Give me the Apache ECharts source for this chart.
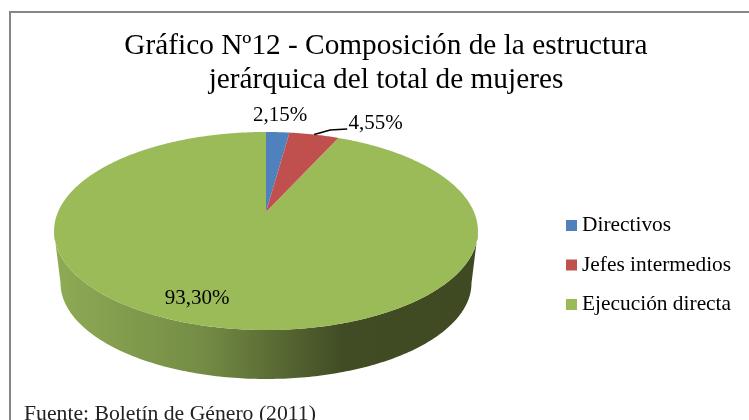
<!DOCTYPE html>
<html>
<head>
<meta charset="utf-8">
<style>html,body{margin:0;padding:0;background:#fff}#c{width:749px;height:420px}</style>
<script src="https://cdn.jsdelivr.net/npm/echarts@6/dist/echarts.min.js"></script>
</head>
<body>
<div id="c"></div>
<script>
const categories = ['Directivos', 'Jefes intermedios', 'Ejecución directa'];
const values = [2.15, 4.55, 93.30];
const valueLabels = ['2,15%', '4,55%', '93,30%'];
const colors = ['#4F81BD', '#C0504D', '#9BBB59'];

const FONT = '"Liberation Serif","Times New Roman",serif';
// projected pie geometry (circle seen in perspective)
const APEX = { x: 266, y: 212 }, A = 208, B = 95.4, K = 0.192;
const TOP_ELL = { cx: 266, cy: 231, rx: 212, ry: 99 };
const BOT_ELL = { cx: 266, cy: 283, rx: 205.5, ry: 96 };
const LABEL_POS = [{ x: 280, y: 115 }, { x: 375.5, y: 123 }, { x: 197, y: 298 }];
const total = values.reduce((a, b) => a + b, 0);

function project(deg, t) {
  const r = deg * Math.PI / 180, u = Math.sin(r) * t, v = Math.cos(r) * t, d = 1 + K * v;
  return [APEX.x + A * u / d, APEX.y - B * v / d];
}
function startAngle(i) {
  return values.slice(0, i).reduce((a, b) => a + b, 0) / total * 360;
}
function sideShape() {
  const pts = [];
  for (let a = 180; a >= 0; a -= 1) {
    const r = a * Math.PI / 180;
    pts.push([TOP_ELL.cx + TOP_ELL.rx * Math.cos(r), TOP_ELL.cy + TOP_ELL.ry * Math.sin(r)]);
  }
  for (let a = 0; a <= 180; a += 1) {
    const r = a * Math.PI / 180;
    pts.push([BOT_ELL.cx + BOT_ELL.rx * Math.cos(r), BOT_ELL.cy + BOT_ELL.ry * Math.sin(r)]);
  }
  return pts;
}
function labelText(i) {
  return {
    type: 'text', z2: 10,
    style: {
      text: valueLabels[i], x: LABEL_POS[i].x, y: LABEL_POS[i].y, fill: '#000',
      font: '21px ' + FONT, align: 'center', verticalAlign: 'middle'
    }
  };
}
function renderSlice(i) {
  return function () {
    const s = startAngle(i), e = s + values[i] / total * 360;
    const pts = [[APEX.x, APEX.y]];
    for (let a = s; a < e; a += 0.5) pts.push(project(a, 1));
    pts.push(project(e, 1));
    const children = [];
    if (i === 2) {
      children.push({
        type: 'polygon', shape: { points: sideShape() },
        style: {
          fill: new echarts.graphic.LinearGradient(0, 0, 1, 0, [
            { offset: 0, color: '#8FAB55' },
            { offset: 0.35, color: '#748C45' },
            { offset: 0.68, color: '#414C24' },
            { offset: 1, color: '#3F4A22' }
          ], false)
        }
      });
    }
    children.push({ type: 'polygon', shape: { points: pts }, style: { fill: colors[i] } });
    if (i === 1) {
      const m = project((s + e) / 2, 1);
      children.push({
        type: 'polyline',
        shape: { points: [m, [m[0] + 16, m[1] - 4.5], [m[0] + 33, m[1] - 5.5]] },
        style: { stroke: '#000', lineWidth: 1.6, fill: null }
      });
    }
    children.push(labelText(i));
    return { type: 'group', children };
  };
}

const chart = echarts.init(document.getElementById('c'), null, { renderer: 'canvas' });
chart.setOption({
  animation: false,
  title: [
    {
      text: 'Gráfico Nº12 - Composición de la estructura\njerárquica del total de mujeres',
      left: 381, top: 24, textAlign: 'center',
      textStyle: { fontFamily: FONT, fontSize: 29.3, fontWeight: 'normal', color: '#000', lineHeight: 34 }
    },
    {
      text: 'Fuente: Boletín de Género (2011)',
      left: 19, top: 398,
      textStyle: { fontFamily: FONT, fontSize: 21.7, fontWeight: 'normal', color: '#222' }
    }
  ],
  legend: {
    orient: 'vertical', left: 561, top: 210, itemWidth: 11, itemHeight: 11, itemGap: 18.5,
    selectedMode: false, icon: 'rect',
    data: categories,
    textStyle: { fontFamily: FONT, fontSize: 21.4, color: '#000', padding: [1, 0, 0, 0] }
  },
  graphic: [{
    type: 'polyline', silent: true,
    shape: { points: [[760, 12], [10, 12], [10, 430]] },
    style: { stroke: '#868686', lineWidth: 2, fill: null }
  }],
  series: categories.map((name, i) => ({
    type: 'custom', name, coordinateSystem: 'none',
    z: i === 2 ? 1 : 2,
    itemStyle: { color: colors[i] },
    data: [values[i]],
    renderItem: renderSlice(i)
  }))
});
</script>
</body>
</html>
